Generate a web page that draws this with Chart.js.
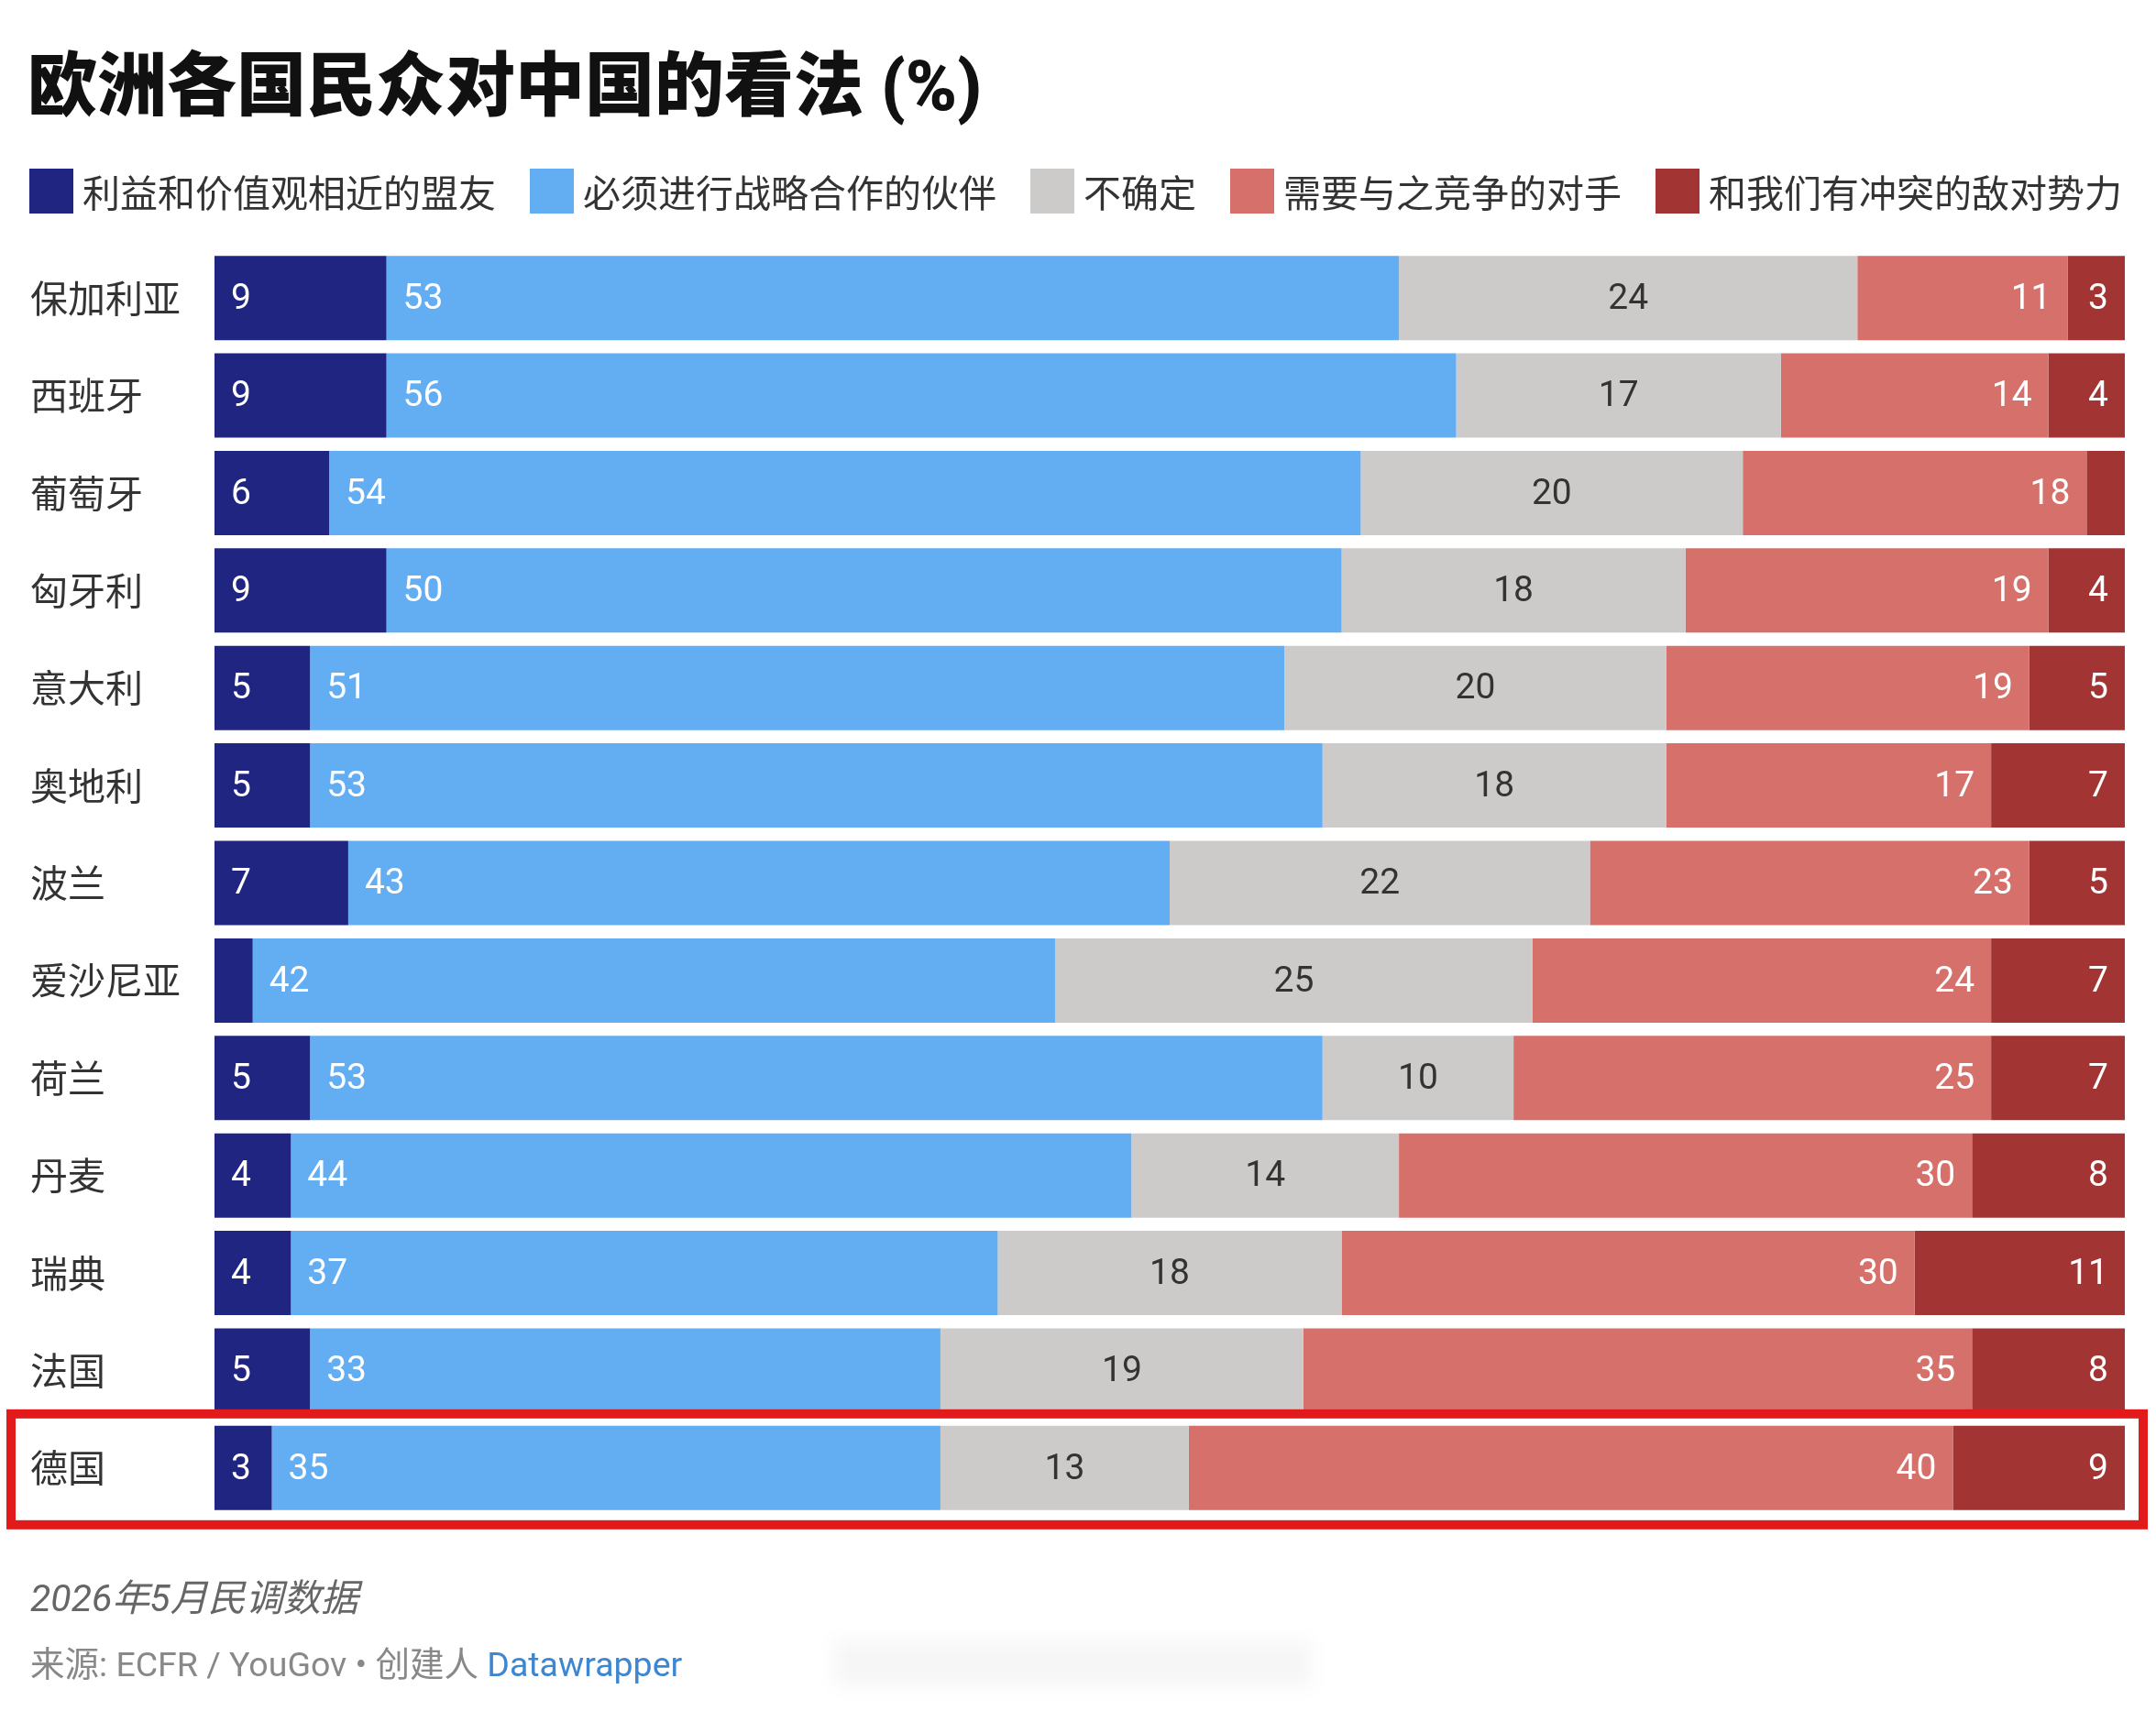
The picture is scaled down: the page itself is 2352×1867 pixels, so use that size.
<!DOCTYPE html>
<html lang="zh">
<head>
<meta charset="utf-8">
<title>欧洲各国民众对中国的看法</title>
<script src="https://cdn.jsdelivr.net/npm/chart.js@4"></script>
<style>
  html, body { margin: 0; padding: 0; background: #fff; overflow: hidden; }
  body { width: 2352px; height: 1867px; position: relative; font-family: Roboto, "Noto Sans CJK SC", sans-serif; }
  #wrap { position: absolute; left: 0; top: 0; width: 2352px; height: 1867px; }
  #title { position: absolute; left: 30px; top: 54px; font: 900 76px/80px Roboto, "Noto Sans CJK SC", sans-serif; color: #111; white-space: nowrap; }
  #legend { position: absolute; left: 32px; top: 184px; height: 49px; display: flex; align-items: center; white-space: nowrap; }
  .item { display: flex; align-items: center; margin-right: 37px; font: 400 41px/49px "Noto Sans CJK SC", sans-serif; color: #333; }
  .swatch { width: 48px; height: 49px; margin-right: 10px; }
  #note { position: absolute; left: 33px; top: 1722px; font: italic 400 41px/44px Roboto, "Noto Sans CJK SC", sans-serif; color: #666; white-space: nowrap; }
  #source { position: absolute; left: 33px; top: 1794px; font: 400 37.5px/44px Roboto, "Noto Sans CJK SC", sans-serif; color: #888; white-space: nowrap; }
  #source span { color: #3f86d1; }
  #smudge { position: absolute; left: 910px; top: 1790px; width: 520px; height: 50px; background: rgba(0,0,0,0.035); filter: blur(10px); }
</style>
</head>
<body>
<div id="wrap"><canvas id="chart"></canvas></div>
<div id="title">欧洲各国民众对中国的看法 (%)</div>
<div id="legend"></div>
<div id="note">2026年5月民调数据</div>
<div id="source">来源: ECFR / YouGov • 创建人 <span>Datawrapper</span></div>
<div id="smudge"></div>
<script>
// Data (percent of respondents).
const countries = ['保加利亚', '西班牙', '葡萄牙', '匈牙利', '意大利', '奥地利', '波兰', '爱沙尼亚', '荷兰', '丹麦', '瑞典', '法国', '德国'];
const allies = [9, 9, 6, 9, 5, 5, 7, 2, 5, 4, 4, 5, 3];
const partners = [53, 56, 54, 50, 51, 53, 43, 42, 53, 44, 37, 33, 35];
const unsure = [24, 17, 20, 18, 20, 18, 22, 25, 10, 14, 18, 19, 13];
const competitors = [11, 14, 18, 19, 19, 17, 23, 24, 25, 30, 30, 35, 40];
const enemies = [3, 4, 2, 4, 5, 7, 5, 7, 7, 8, 11, 8, 9];
const seriesNames = ['利益和价值观相近的盟友', '必须进行战略合作的伙伴', '不确定', '需要与之竞争的对手', '和我们有冲突的敌对势力'];
const highlighted = '德国';

const colors = ['#1f2581', '#63adf2', '#cccbca', '#d5706b', '#a33434'];
const labelAligns = ['left', 'left', 'center', 'right', 'right'];
const labelColors = ['#fff', '#fff', '#333', '#fff', '#fff'];

// Build the legend.
const legend = document.getElementById('legend');
seriesNames.forEach((name, i) => {
    const item = document.createElement('div');
    item.className = 'item';
    item.innerHTML = `<div class="swatch" style="background:${colors[i]}"></div>${name}`;
    legend.appendChild(item);
});

// Draws the value inside each segment.
const segmentLabels = {
    id: 'segmentLabels',
    afterDatasetsDraw(chart) {
        const ctx = chart.ctx;
        ctx.save();
        ctx.font = '400 39px Roboto, sans-serif';
        ctx.textBaseline = 'middle';
        chart.data.datasets.forEach((ds, i) => {
            const meta = chart.getDatasetMeta(i);
            meta.data.forEach((bar, j) => {
                const value = ds.data[j];
                if (value < 3) return;
                const left = Math.min(bar.x, bar.base);
                const right = Math.max(bar.x, bar.base);
                let x = (left + right) / 2;
                if (ds.labelAlign === 'left') x = left + 18;
                if (ds.labelAlign === 'right') x = right - 18;
                ctx.textAlign = ds.labelAlign;
                ctx.fillStyle = ds.labelColor;
                ctx.fillText(String(value), x, bar.y + 2);
            });
        });
        ctx.restore();
    }
};

// Red frame round the highlighted row.
const highlightBox = {
    id: 'highlightBox',
    afterDraw(chart) {
        const index = countries.indexOf(highlighted);
        if (index === -1) return;
        const y = chart.scales.y.getPixelForValue(index);
        const ctx = chart.ctx;
        ctx.save();
        ctx.strokeStyle = '#e21a1c';
        ctx.lineWidth = 10;
        ctx.strokeRect(12, y - 59, chart.width - 26, 121);
        ctx.restore();
    }
};

const values = [allies, partners, unsure, competitors, enemies];
const datasets = values.map((data, i) => ({
    label: seriesNames[i],
    data: data,
    backgroundColor: colors[i],
    borderWidth: 0,
    barPercentage: 92 / 106.4,
    categoryPercentage: 1,
    labelAlign: labelAligns[i],
    labelColor: labelColors[i]
}));

new Chart(document.getElementById('chart'), {
    type: 'bar',
    data: {
        labels: countries,
        datasets: datasets
    },
    options: {
        indexAxis: 'y',
        responsive: true,
        maintainAspectRatio: false,
        animation: false,
        layout: {
            padding: { left: 33, right: 34, top: 272, bottom: 212 }
        },
        scales: {
            x: {
                stacked: true,
                min: 0,
                max: 100,
                display: false
            },
            y: {
                stacked: true,
                grid: { display: false },
                border: { display: false },
                ticks: {
                    crossAlign: 'far',
                    padding: 0,
                    color: '#333',
                    font: { family: '"Noto Sans CJK SC", sans-serif', size: 41 }
                },
                afterFit(scale) {
                    scale.width = 201;
                }
            }
        },
        plugins: {
            legend: { display: false },
            tooltip: { enabled: false }
        }
    },
    plugins: [segmentLabels, highlightBox]
});
</script>
</body>
</html>
